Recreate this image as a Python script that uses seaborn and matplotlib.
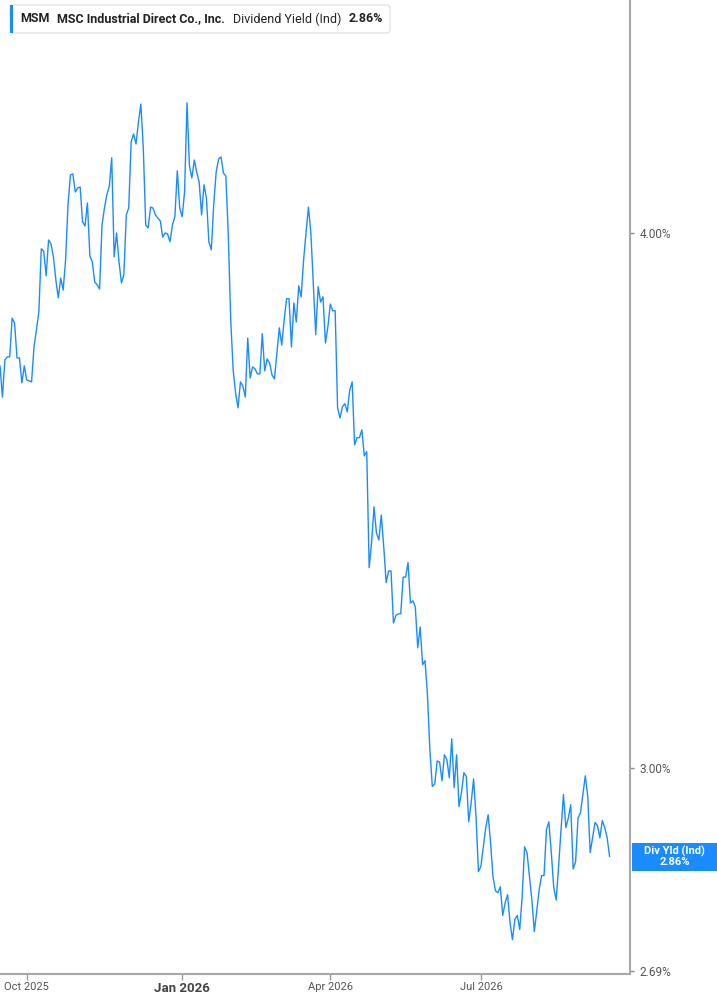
import numpy as np
import pandas as pd
import matplotlib
matplotlib.use("Agg")
import matplotlib.pyplot as plt
import seaborn as sns
from matplotlib.offsetbox import TextArea, HPacker, AnchoredOffsetbox
from matplotlib.patches import Rectangle, FancyBboxPatch
from matplotlib.ticker import FixedLocator, NullLocator

sns.set_theme(style="white")
plt.rcParams['font.family'] = ['Roboto', 'DejaVu Sans']

# -------------------------
# Data (dividend yield, %, one value per trading day)
# -------------------------
TICKER = "MSM"
COMPANY = "MSC Industrial Direct Co., Inc."
METRIC = "Dividend Yield (Ind)"
SHORT_METRIC = "Div Yld (Ind)"

START_DATE = "2025-09-16"
HOLIDAYS = ['2025-11-27', '2025-12-25', '2026-01-01', '2026-01-19', '2026-02-16',
            '2026-04-03', '2026-05-25', '2026-06-19', '2026-07-03', '2026-09-07']

YIELD = [
    3.724, 3.662, 3.736, 3.742, 3.742, 3.821, 3.811, 3.740, 3.740, 3.690,
    3.724, 3.696, 3.694, 3.692, 3.762, 3.797, 3.834, 3.966, 3.961, 3.909,
    3.985, 3.976, 3.949, 3.900, 3.863, 3.904, 3.879, 3.942, 4.061, 4.127,
    4.129, 4.089, 4.098, 4.100, 4.024, 4.015, 4.065, 3.951, 3.938, 3.896,
    3.890, 3.881, 4.017, 4.054, 4.083, 4.102, 4.165, 3.949, 4.000, 3.938,
    3.894, 3.911, 4.039, 4.054, 4.201, 4.219, 4.196, 4.246, 4.287, 4.187,
    4.017, 4.011, 4.056, 4.054, 4.039, 4.032, 4.026, 3.991, 4.000, 3.998,
    3.981, 4.017, 4.035, 4.136, 4.054, 4.035, 4.089, 4.290, 4.147, 4.120,
    4.160, 4.133, 4.111, 4.039, 4.105, 4.076, 3.981, 3.964, 4.061, 4.133,
    4.162, 4.167, 4.131, 4.124, 3.996, 3.817, 3.716, 3.670, 3.641, 3.692,
    3.684, 3.662, 3.780, 3.700, 3.722, 3.718, 3.708, 3.708, 3.789, 3.714,
    3.738, 3.730, 3.706, 3.698, 3.750, 3.801, 3.766, 3.817, 3.861, 3.861,
    3.762, 3.852, 3.813, 3.888, 3.865, 3.942, 4.000, 4.056, 4.000, 3.894,
    3.787, 3.886, 3.854, 3.865, 3.770, 3.803, 3.850, 3.836, 3.836, 3.641,
    3.621, 3.643, 3.649, 3.633, 3.676, 3.692, 3.569, 3.583, 3.583, 3.598,
    3.548, 3.556, 3.341, 3.386, 3.452, 3.404, 3.391, 3.437, 3.379, 3.314,
    3.335, 3.335, 3.243, 3.256, 3.259, 3.259, 3.324, 3.324, 3.350, 3.278,
    3.282, 3.271, 3.200, 3.236, 3.171, 3.178, 3.120, 3.029, 2.970, 2.974,
    3.011, 3.009, 2.979, 3.021, 3.013, 2.984, 3.047, 2.968, 3.021, 2.938,
    2.960, 2.992, 2.986, 2.914, 2.944, 2.982, 2.922, 2.837, 2.845, 2.875,
    2.905, 2.925, 2.881, 2.829, 2.808, 2.805, 2.814, 2.771, 2.790, 2.802,
    2.760, 2.735, 2.765, 2.771, 2.750, 2.799, 2.875, 2.866, 2.829, 2.794,
    2.747, 2.777, 2.810, 2.831, 2.831, 2.902, 2.914, 2.866, 2.813, 2.794,
    2.845, 2.902, 2.957, 2.905, 2.920, 2.941, 2.841, 2.852, 2.920, 2.928,
    2.957, 2.987, 2.954, 2.866, 2.889, 2.913, 2.908, 2.889, 2.916, 2.905,
    2.889, 2.860,
]

# month starts that get a label (January is drawn bold)
TICK_MONTHS = [(2025, 10), (2026, 1), (2026, 4), (2026, 7)]
Y_TICKS = [2.69, 3.00, 4.00]
Y_LIMITS = (2.685, 4.534)
X_END = 259.4  # trading-day slots shown (space right of the last point)

LINE_BLUE = '#1a8cff'
AXIS_GREY = '#a8a8a8'
TEXT_GREY = '#555555'

W, H = 717, 1005


def build_frame():
    dates = pd.bdate_range(start=START_DATE, periods=len(YIELD), freq='C', holidays=HOLIDAYS)
    return pd.DataFrame({'date': dates, 'pos': np.arange(len(YIELD)), 'yield': YIELD})


def add_header(fig, last):
    # frame + blue accent bar
    fig.add_artist(FancyBboxPatch((10 / W, 1 - 33 / H), 380 / W, 28 / H,
                                  boxstyle='round,pad=0,rounding_size=0.004',
                                  transform=fig.transFigure, facecolor='white',
                                  edgecolor='#e4e4e4', linewidth=1))
    fig.add_artist(Rectangle((10 / W, 1 - 33 / H), 3 / W, 28 / H, transform=fig.transFigure,
                             facecolor=LINE_BLUE, edgecolor='none'))

    bold = dict(fontsize=9, fontweight='bold', color='#222222')
    normal = dict(fontsize=9, color='#222222')
    pack = HPacker(children=[TextArea(TICKER, textprops=bold),
                             TextArea(COMPANY, textprops=bold),
                             TextArea(METRIC, textprops=normal),
                             TextArea(f'{last:.2f}%', textprops=bold)],
                   sep=5.5, pad=0, align='center')
    header = AnchoredOffsetbox(loc='center left', child=pack, pad=0, borderpad=0,
                               frameon=False, bbox_to_anchor=(20 / W, 1 - 19 / H),
                               bbox_transform=fig.transFigure)
    fig.add_artist(header)


def main():
    df = build_frame()

    fig = plt.figure(figsize=(W / 100, H / 100), dpi=100)
    ax = fig.add_axes([0.0, 1 - 974 / H, 630 / W, 974 / H])

    sns.lineplot(data=df, x='pos', y='yield', ax=ax, color=LINE_BLUE, linewidth=1.0)

    ax.set_yscale('log')
    ax.set_ylim(*Y_LIMITS)
    ax.set_xlim(0, X_END)
    ax.set_xlabel('')
    ax.set_ylabel('')

    # y axis on the right
    ax.yaxis.tick_right()
    ax.yaxis.set_major_locator(FixedLocator(Y_TICKS))
    ax.yaxis.set_minor_locator(NullLocator())
    ax.set_yticklabels([f'{v:.2f}%' for v in Y_TICKS])
    ax.tick_params(axis='y', which='major', right=True, left=False, length=3, width=1,
                   color='#888888', pad=4, labelsize=8.5, labelcolor=TEXT_GREY)

    # x ticks at first trading day of each labelled month
    tick_pos, tick_lab = [], []
    for yr, mo in TICK_MONTHS:
        mask = (df['date'].dt.year == yr) & (df['date'].dt.month == mo)
        tick_pos.append(df.loc[mask, 'pos'].iloc[0])
        tick_lab.append(pd.Timestamp(yr, mo, 1).strftime('%b %Y'))
    ax.set_xticks(tick_pos)
    ax.set_xticklabels(tick_lab)
    ax.tick_params(axis='x', bottom=True, length=4, width=1, color='#999999', pad=2,
                   labelsize=8, labelcolor=TEXT_GREY)
    for lab, (yr, mo) in zip(ax.get_xticklabels(), TICK_MONTHS):
        if mo == 1:
            lab.set_fontweight('bold')
            lab.set_fontsize(9.5)
            lab.set_color('#444444')

    for side in ['top', 'left']:
        ax.spines[side].set_visible(False)
    for side in ['right', 'bottom']:
        ax.spines[side].set_color(AXIS_GREY)
        ax.spines[side].set_linewidth(1.5)
    ax.grid(False)

    last = YIELD[-1]
    add_header(fig, last)

    # last value tag on the right axis
    y_px = ax.transData.transform((0, last))[1]
    fig.add_artist(Rectangle((632 / W, (y_px - 14) / H), 85 / W, 28 / H,
                             transform=fig.transFigure, facecolor=LINE_BLUE, edgecolor='none'))
    fig.text(674.5 / W, y_px / H, f'{SHORT_METRIC}\n{last:.2f}%', ha='center', va='center',
             color='white', fontsize=8, fontweight='bold', linespacing=1.0)

    fig.savefig('out.png', dpi=100)
    plt.close(fig)


if __name__ == "__main__":
    main()
